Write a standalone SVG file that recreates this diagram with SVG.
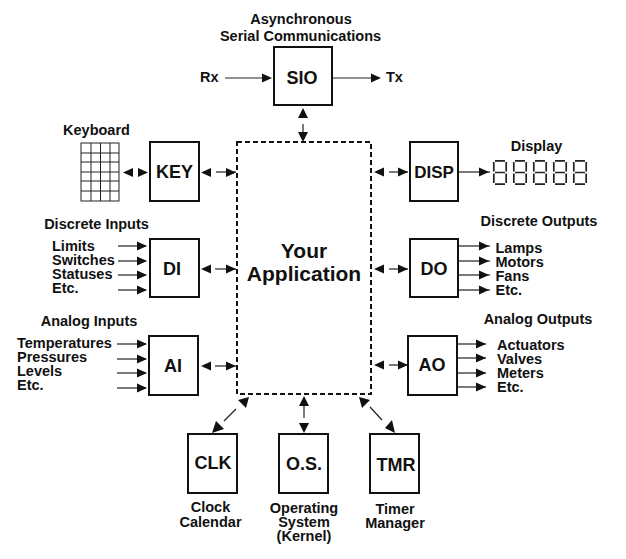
<svg xmlns="http://www.w3.org/2000/svg" width="626" height="559" viewBox="0 0 626 559">
<style>
text{font-family:"Liberation Sans",Arial,sans-serif;font-weight:bold;fill:#111}
.l{font-size:14.500px}
.m{font-size:14.500px;text-anchor:middle}
.b{font-size:18px;text-anchor:middle}
.a{font-size:21px;text-anchor:middle}
.box{fill:#fff;stroke:#111;stroke-width:2}
.c{stroke:#222;stroke-width:1.2;fill:none}
.h{fill:#111;stroke:none}
.seg{fill:none;stroke:#222;stroke-width:1.700}
</style>
<defs>
<polygon id="r" class="h" points="0,-4.5 10,0 0,4.5"/>
<polygon id="lf" class="h" points="0,-4.5 -10,0 0,4.5"/>
<g id="digit"><path class="seg" d="M2,0.800H12M0.800,2V11.500M13.200,2V11.500M2,12.500H12M0.800,13.500V23M13.200,13.500V23M2,24.200H12"/></g>
</defs>
<g id="connectors">
<path class="c" d="M225,78H268"/><use href="#r" x="262" y="78"/>
<path class="c" d="M333,78H376"/><use href="#r" x="371" y="78"/>
<polygon class="h" points="303,108 298,118 308,118"/>
<path class="c" d="M303,124V138"/><polygon class="h" points="303,142 298,132 308,132"/>
<use href="#lf" x="133" y="172.500"/><use href="#r" x="138" y="172.500"/>
<use href="#lf" x="211" y="172.500"/><path class="c" d="M216,172H236"/><use href="#r" x="226" y="172.500"/>
<path class="c" d="M118,246H146"/><use href="#r" x="137" y="246"/>
<path class="c" d="M118,261H146"/><use href="#r" x="137" y="261"/>
<path class="c" d="M118,275H146"/><use href="#r" x="137" y="275"/>
<path class="c" d="M118,290H146"/><use href="#r" x="137" y="290"/>
<use href="#lf" x="211" y="269"/><path class="c" d="M215,269H236"/><use href="#r" x="226" y="269"/>
<path class="c" d="M117,344H146"/><use href="#r" x="137" y="344"/>
<path class="c" d="M117,359H146"/><use href="#r" x="137" y="359"/>
<path class="c" d="M117,373H146"/><use href="#r" x="137" y="373"/>
<path class="c" d="M117,388H146"/><use href="#r" x="137" y="388"/>
<use href="#lf" x="211" y="366"/><path class="c" d="M215,366H236"/><use href="#r" x="226" y="366"/>
<use href="#lf" x="384" y="172"/><path class="c" d="M389,172H408"/><use href="#r" x="398" y="172"/>
<use href="#lf" x="384" y="269"/><path class="c" d="M389,269H408"/><use href="#r" x="398" y="269"/>
<use href="#lf" x="384" y="365"/><path class="c" d="M389,365H408"/><use href="#r" x="398" y="365"/>
<path class="c" d="M459,172H490"/><use href="#r" x="479" y="172"/>
<path class="c" d="M459,246H490"/><use href="#r" x="479" y="246"/>
<path class="c" d="M459,261H490"/><use href="#r" x="479" y="261"/>
<path class="c" d="M459,275H490"/><use href="#r" x="479" y="275"/>
<path class="c" d="M459,290H490"/><use href="#r" x="479" y="290"/>
<path class="c" d="M457,344H486"/><use href="#r" x="476" y="344"/>
<path class="c" d="M457,358H486"/><use href="#r" x="476" y="358"/>
<path class="c" d="M457,373H486"/><use href="#r" x="476" y="373"/>
<path class="c" d="M457,387H486"/><use href="#r" x="476" y="387"/>
<polygon class="h" points="249,397 238,400 246,408"/>
<path class="c" d="M236,409L224,421"/>
<polygon class="h" points="212,433 216,421 224,429"/>
<polygon class="h" points="304,396 299,406 309,406"/>
<path class="c" d="M304,406V418"/>
<polygon class="h" points="304,433 299,423 309,423"/>
<polygon class="h" points="359,397 370,400 362,408"/>
<path class="c" d="M370,407L382,420"/>
<polygon class="h" points="395,433 385,428 392,420"/>
</g>
<g id="app"><rect x="237" y="142" width="134" height="252" fill="#fff" stroke="#111" stroke-width="2" stroke-dasharray="5 3"/>
<text class="a" x="304" y="258">Your</text><text class="a" x="304" y="281">Application</text></g>
<g id="sio"><rect class="box" x="274" y="47" width="58" height="58"/><text class="b" x="302" y="84">SIO</text>
<text class="m" x="301" y="24">Asynchronous</text><text class="m" x="300.500" y="41">Serial Communications</text>
<text class="l" x="200" y="82">Rx</text><text class="l" x="386" y="82">Tx</text></g>
<g id="key"><rect class="box" x="150" y="142" width="49" height="59"/><text class="b" x="174.500" y="178">KEY</text>
<text class="m" x="96.500" y="135">Keyboard</text>
<g id="keypad" fill="none" stroke="#222" stroke-width="1"><rect x="81" y="143" width="38" height="58"/><path d="M91,143V201M100.500,143V201M110,143V201M81,153H119M81,162H119M81,172H119M81,181H119M81,191H119"/></g></g>
<g id="di"><rect class="box" x="150" y="239" width="49" height="58"/><text class="b" x="172" y="275">DI</text>
<text class="m" x="96.500" y="229">Discrete Inputs</text>
<text class="l" x="52" y="251">Limits</text><text class="l" x="52" y="265">Switches</text><text class="l" x="52" y="279">Statuses</text><text class="l" x="52" y="293">Etc.</text></g>
<g id="ai"><rect class="box" x="149" y="336" width="49" height="59"/><text class="b" x="173" y="372">AI</text>
<text class="m" x="89" y="326">Analog Inputs</text>
<text class="l" x="17" y="348">Temperatures</text><text class="l" x="17" y="362">Pressures</text><text class="l" x="17" y="376">Levels</text><text class="l" x="17" y="390">Etc.</text></g>
<g id="disp"><rect class="box" x="410" y="142" width="48" height="59"/><text class="b" x="434" y="178" style="font-size:17px">DISP</text>
<text class="m" x="536.500" y="151">Display</text>
<g id="digits"><use href="#digit" x="493" y="160"/><use href="#digit" x="513" y="160"/><use href="#digit" x="533" y="160"/><use href="#digit" x="553" y="160"/><use href="#digit" x="573" y="160"/></g></g>
<g id="do"><rect class="box" x="410" y="239" width="48" height="58"/><text class="b" x="434" y="275">DO</text>
<text class="m" x="539" y="226">Discrete Outputs</text>
<text class="l" x="495.500" y="253">Lamps</text><text class="l" x="495.500" y="267">Motors</text><text class="l" x="495.500" y="281">Fans</text><text class="l" x="495.500" y="295">Etc.</text></g>
<g id="ao"><rect class="box" x="408" y="336" width="49" height="59"/><text class="b" x="432" y="371">AO</text>
<text class="m" x="538" y="324">Analog Outputs</text>
<text class="l" x="497" y="350">Actuators</text><text class="l" x="497" y="364">Valves</text><text class="l" x="497" y="378">Meters</text><text class="l" x="497" y="392">Etc.</text></g>
<g id="clk"><rect class="box" x="188" y="434" width="49" height="59"/><text class="b" x="213" y="469">CLK</text>
<text class="m" x="210.500" y="512">Clock</text><text class="m" x="210.500" y="527">Calendar</text></g>
<g id="os"><rect class="box" x="279" y="434" width="49" height="59"/><text class="b" x="304" y="470">O.S.</text>
<text class="m" x="304" y="513">Operating</text><text class="m" x="304" y="527">System</text><text class="m" x="304" y="541">(Kernel)</text></g>
<g id="tmr"><rect class="box" x="370" y="434" width="49" height="59"/><text class="b" x="396" y="471">TMR</text>
<text class="m" x="395" y="514">Timer</text><text class="m" x="395" y="528">Manager</text></g>
</svg>
